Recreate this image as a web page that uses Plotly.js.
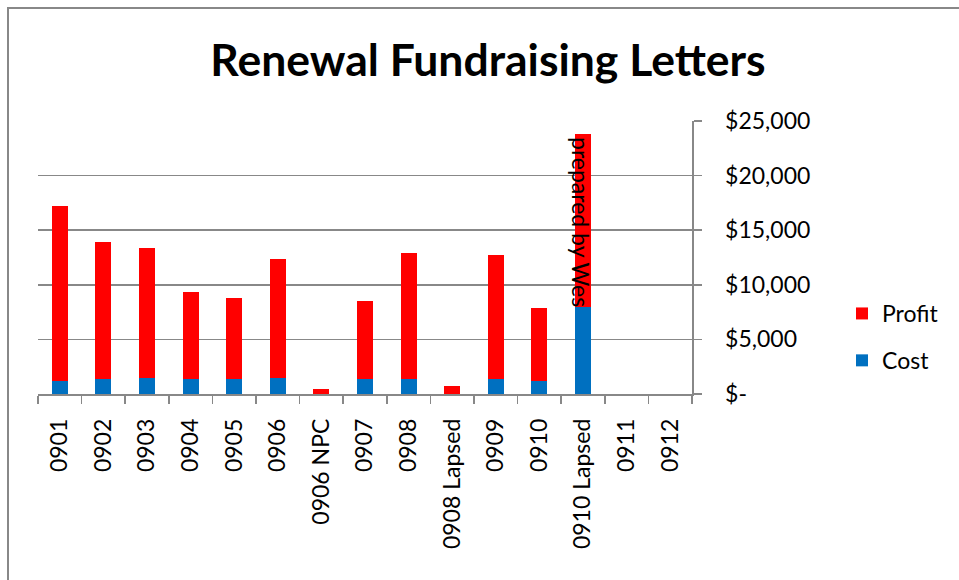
<!DOCTYPE html>
<html>
<head>
<meta charset="utf-8">
<script src="https://cdn.plot.ly/plotly-3.0.1.min.js"></script>
<style>
html,body{margin:0;padding:0;background:#fff;}
#chart{width:959px;height:580px;}
</style>
</head>
<body>
<div id="chart"></div>
<script>
var categories = ["0901","0902","0903","0904","0905","0906","0906 NPC","0907","0908","0908 Lapsed","0909","0910","0910 Lapsed","0911","0912"];
var cost   = [1160, 1350, 1440, 1350, 1350, 1420, 0, 1400, 1350, 0, 1350, 1160, 7970, 0, 0];
var profit = [16090, 12600, 11910, 7950, 7400, 10930, 500, 7150, 11600, 730, 11350, 6740, 15810, 0, 0];
var tickValues = [0, 5000, 10000, 15000, 20000, 25000];
var tickLabels = ["$-", "$5,000", "$10,000", "$15,000", "$20,000", "$25,000"];

var FONT = "Lato, 'Open Sans', sans-serif";
var L = 38, R = 959 - 692, T = 121, B = 580 - 394;
var pw = 959 - L - R, ph = 580 - T - B;
function px2x(p){ return (p - L) / pw; }
function px2y(p){ return (580 - B - p) / ph; }

var traces = [
  {type: "bar", name: "Cost", x: categories, y: cost, marker: {color: "#0070C0", line: {width: 0}}, legendgroup: "c", legendrank: 2},
  {type: "bar", name: "Profit", x: categories, y: profit, marker: {color: "#FF0000", line: {width: 0}}, legendgroup: "p", legendrank: 1}
];

var layout = {
  width: 959, height: 580,
  margin: {l: L, r: R, t: T, b: B, pad: 0},
  paper_bgcolor: "#ffffff", plot_bgcolor: "#ffffff",
  barmode: "stack", bargap: 0.633,
  font: {family: FONT, size: 23, color: "#000"},
  title: {
    text: "<b>Renewal Fundraising Letters</b>",
    font: {family: FONT, size: 44.5, color: "#000"},
    xref: "container", yref: "container", x: 488/959, y: 1 - 60/580,
    xanchor: "center", yanchor: "middle"
  },
  xaxis: {
    type: "category", range: [-0.5, 14.5], fixedrange: true,
    showline: true, linecolor: "#888", linewidth: 1.5,
    ticks: "outside", tickson: "boundaries", ticklen: 8, tickcolor: "#888", tickwidth: 1.5,
    tickangle: -90, ticklabelstandoff: 14,
    tickfont: {family: FONT, size: 23, color: "#000"},
    showgrid: false, zeroline: false
  },
  yaxis: {
    side: "right", range: [0, 25000], fixedrange: true,
    tickvals: tickValues, ticktext: tickLabels,
    showline: true, linecolor: "#888", linewidth: 1.5,
    ticks: "outside", ticklen: 8, tickcolor: "#888", tickwidth: 1.5,
    ticklabelstandoff: 19,
    tickfont: {family: FONT, size: 23, color: "#000"},
    showgrid: true, gridcolor: "#888", gridwidth: 1.5, zeroline: false
  },
  showlegend: true,
  legend: {
    x: px2x(842), y: px2y(292), xanchor: "left", yanchor: "top",
    traceorder: "grouped", tracegroupgap: 14,
    font: {family: FONT, size: 23, color: "#000"},
    bgcolor: "rgba(0,0,0,0)", borderwidth: 0
  },
  annotations: [{
    x: "0910 Lapsed", y: 15750, xref: "x", yref: "y",
    text: "prepared by Wes", showarrow: false, textangle: 90,
    xshift: -2, font: {family: FONT, size: 23, color: "#000"}
  }],
  shapes: [{
    type: "path", xref: "paper", yref: "paper",
    path: "M " + px2x(8) + " " + px2y(600) + " L " + px2x(8) + " " + px2y(8) + " L " + px2x(980) + " " + px2y(8),
    line: {color: "#888", width: 2}
  }]
};

Plotly.newPlot("chart", traces, layout, {displayModeBar: false, staticPlot: true});
</script>
</body>
</html>
